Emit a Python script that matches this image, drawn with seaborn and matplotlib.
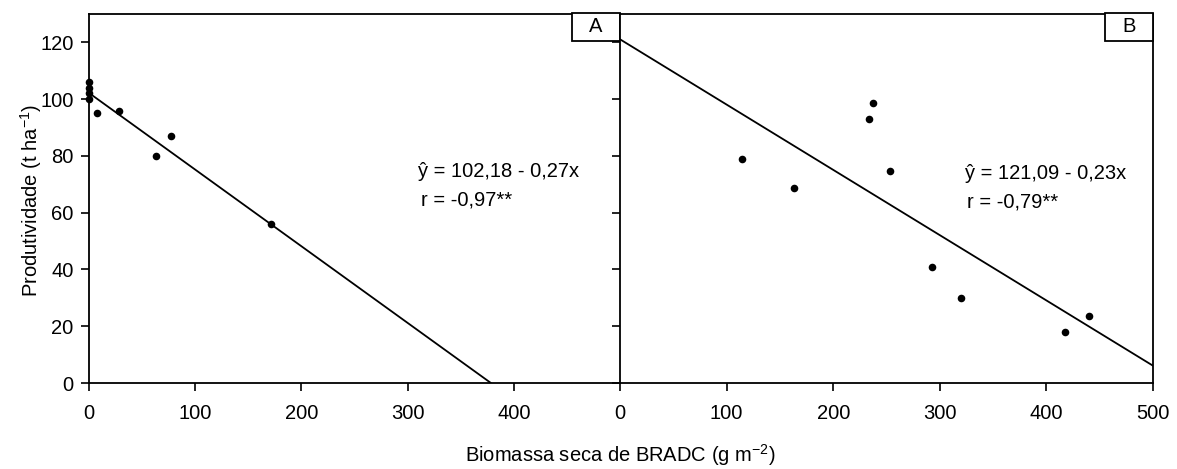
import matplotlib
matplotlib.use("Agg")
import matplotlib.pyplot as plt
from matplotlib.patches import Rectangle
import seaborn as sns
import numpy as np
import pandas as pd

# Panel A data
xa = [0, 0, 0, 0, 8, 28, 63.5, 77, 171]
ya = [106, 104, 102, 100, 95, 96, 80, 87, 56]
# Panel B data
xb = [114, 163.5, 234, 237, 253, 292.7, 320, 417.5, 439.5]
yb = [79, 68.8, 92.9, 98.6, 74.7, 40.9, 30, 17.8, 23.7]

# Regression coefficients
coef_a = (102.18, -0.27)
coef_b = (121.09, -0.23)
eq_a = ["\u0177 = 102,18 - 0,27x", "r = -0,97**"]
eq_b = ["\u0177 = 121,09 - 0,23x", "r = -0,79**"]
panel_labels = ["A", "B"]
yticks = [0, 20, 40, 60, 80, 100, 120]
xticks_a = [0, 100, 200, 300, 400]
xticks_b = [0, 100, 200, 300, 400, 500]

sns.set_theme(style="white")
plt.rcParams['font.family'] = ['Liberation Sans', 'DejaVu Sans']
plt.rcParams['mathtext.fontset'] = 'custom'
plt.rcParams['mathtext.rm'] = 'Liberation Sans'
plt.rcParams['mathtext.it'] = 'Liberation Sans'
plt.rcParams['text.color'] = 'black'
plt.rcParams['xtick.color'] = 'black'
plt.rcParams['ytick.color'] = 'black'

fig = plt.figure(figsize=(11.77, 4.69), dpi=100)
W, H = 1177, 469
bottom = 1 - 383 / H
top = 1 - 14 / H
axA = fig.add_axes([89 / W, bottom, (620 - 89) / W, top - bottom])
axB = fig.add_axes([620 / W, bottom, (1153 - 620) / W, top - bottom])

fs = 14.5

def draw(ax, x, y, coef, xend):
    df = pd.DataFrame({"x": x, "y": y})
    sns.scatterplot(data=df, x="x", y="y", ax=ax, color="black", s=30,
                    edgecolor="black", linewidth=0, zorder=3, clip_on=False)
    xs = np.array([0, xend])
    sns.lineplot(x=xs, y=coef[0] + coef[1] * xs, ax=ax, color="black", lw=1.3)
    ax.set_xlim(0, 500)
    ax.set_ylim(0, 130)
    ax.set_xlabel("")
    ax.set_ylabel("")
    for s in ax.spines.values():
        s.set_color("black")
        s.set_linewidth(1.3)
    ax.tick_params(direction="out", length=6, width=1.2, colors="black",
                   labelsize=fs, bottom=True, left=True, pad=5)
    ax.tick_params(axis="x", pad=9)

xend_a = -coef_a[0] / coef_a[1]
draw(axA, xa, ya, coef_a, xend_a)
draw(axB, xb, yb, coef_b, 500)

axA.set_xticks(xticks_a)
axA.set_yticks(yticks)
axA.spines["right"].set_visible(False)
axB.set_xticks(xticks_b)
axB.set_yticks(yticks)
axB.set_yticklabels([])

# equations
axA.text(0.62, 0.572, eq_a[0], transform=axA.transAxes, fontsize=fs, ha="left", va="center")
axA.text(0.625, 0.497, eq_a[1], transform=axA.transAxes, fontsize=fs, ha="left", va="center")
axB.text(0.647, 0.569, eq_b[0], transform=axB.transAxes, fontsize=fs, ha="left", va="center")
axB.text(0.651, 0.49, eq_b[1], transform=axB.transAxes, fontsize=fs, ha="left", va="center")

# panel labels (boxed)
for ax, lab, wpx in zip([axA, axB], panel_labels, [531, 533]):
    bw = 48 / wpx
    bh = 28 / 369
    ax.add_patch(Rectangle((1 - bw, 1.003 - bh), bw, bh, transform=ax.transAxes,
                           fc="white", ec="black", lw=1.3, clip_on=False, zorder=6))
    ax.text(1 - bw / 2, 1.003 - bh / 2, lab, transform=ax.transAxes, fontsize=fs,
            ha="center", va="center", zorder=7)

fig.text(31 / W, 1 - 200 / H, "Produtividade (t ha$^{\\mathrm{-1}}$)", rotation=90, fontsize=fs,
         ha="center", va="center")
fig.text(620 / W, 1 - 455 / H, "Biomassa seca de BRADC (g m$^{\\mathrm{-2}}$)", fontsize=fs,
         ha="center", va="center")

fig.savefig("out.png", dpi=100)
